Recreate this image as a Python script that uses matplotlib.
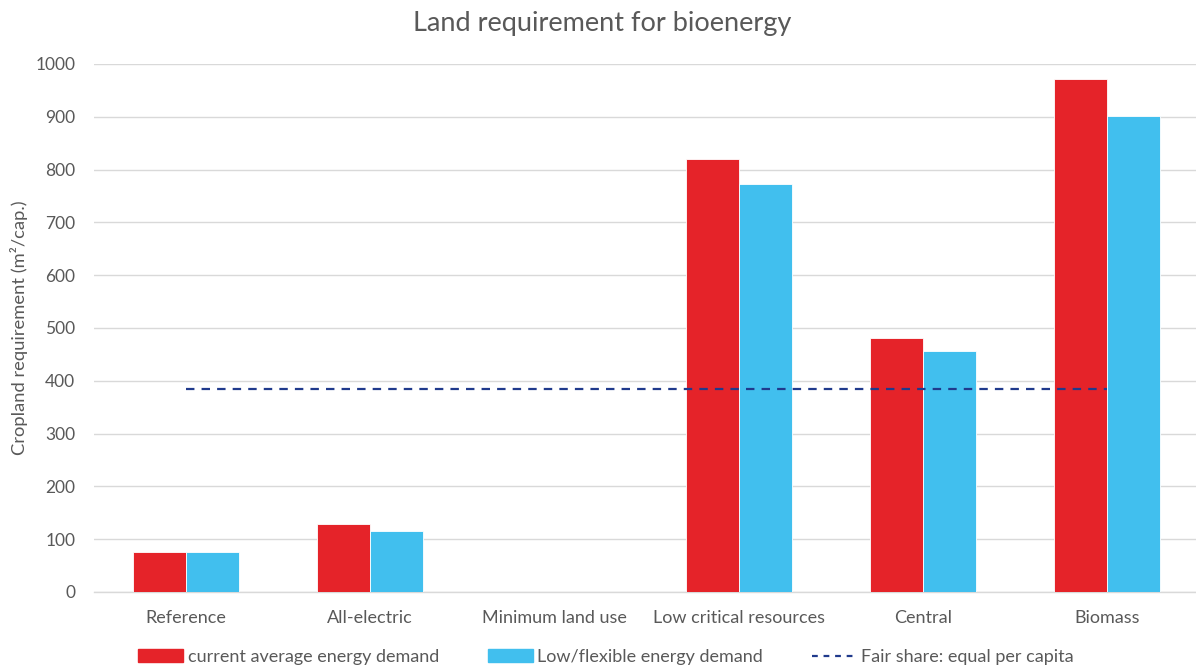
import matplotlib
matplotlib.use("Agg")
import matplotlib.pyplot as plt
from matplotlib.patches import Patch
from matplotlib.lines import Line2D
import numpy as np

categories = ["Reference", "All-electric", "Minimum land use",
              "Low critical resources", "Central", "Biomass"]
current_demand = [76, 128, 0, 820, 481, 972]
low_flex_demand = [76, 116, 0, 773, 456, 902]
fair_share = [385, 385, 385, 385, 385, 385]
y_ticks = [0, 100, 200, 300, 400, 500, 600, 700, 800, 900, 1000]

RED = "#E52329"
BLUE = "#41BFEE"
NAVY = "#203A8C"
GREY_TEXT = "#595959"
GRID = "#D9D9D9"

plt.rcParams["font.family"] = ["Lato", "DejaVu Sans"]

fig = plt.figure(figsize=(11.96, 6.69), dpi=100)
ax = fig.add_axes([94 / 1196, 1 - 592 / 669, (1199 - 94) / 1196, (592 - 64) / 669])

x = np.arange(len(categories))
w = 0.288
ax.bar(x - w / 2, current_demand, width=w, color=RED, edgecolor="white",
       linewidth=0.6, zorder=3)
ax.bar(x + w / 2, low_flex_demand, width=w, color=BLUE, edgecolor="white",
       linewidth=0.6, zorder=3)
ax.plot(x, fair_share, color=NAVY, linewidth=1.6, dashes=(3.8, 3.2), zorder=4)

ax.set_xlim(-0.5, len(categories) - 0.5)
ax.set_ylim(0, 1000)
ax.set_yticks(y_ticks)
ax.set_xticks(x)
ax.set_xticklabels(categories)
ax.tick_params(axis="both", length=0, colors=GREY_TEXT)
ax.tick_params(axis="x", pad=13, labelsize=13)
ax.tick_params(axis="y", pad=13.5, labelsize=12.5)
ax.grid(axis="y", color=GRID, linewidth=1.0, zorder=0)
for side in ["top", "right", "left"]:
    ax.spines[side].set_visible(False)
ax.spines["bottom"].set_color(GRID)
ax.spines["bottom"].set_linewidth(1.0)

ax.set_ylabel("Cropland requirement (m²/cap.)", color=GREY_TEXT, fontsize=13.2)
ax.yaxis.set_label_coords(-66 / 1105, 0.5)

fig.text(602 / 1196, 1 - 23 / 669, "Land requirement for bioenergy",
         ha="center", va="center", fontsize=19.5, color=GREY_TEXT)

handles = [
    Patch(facecolor=RED, edgecolor=RED),
    Patch(facecolor=BLUE, edgecolor=BLUE),
    Line2D([0], [0], color=NAVY, linewidth=1.6, dashes=(2.6, 2.6)),
]
labels = ["current average energy demand", "Low/flexible energy demand",
          "Fair share: equal per capita"]
fig.legend(handles, labels, loc="center", bbox_to_anchor=(606 / 1196, 1 - 657 / 669),
           ncol=3, frameon=False, fontsize=13, labelcolor=GREY_TEXT,
           handlelength=2.5, handleheight=0.7, handletextpad=0.25,
           columnspacing=2.7)

fig.savefig("out.png", dpi=100, facecolor="white")
